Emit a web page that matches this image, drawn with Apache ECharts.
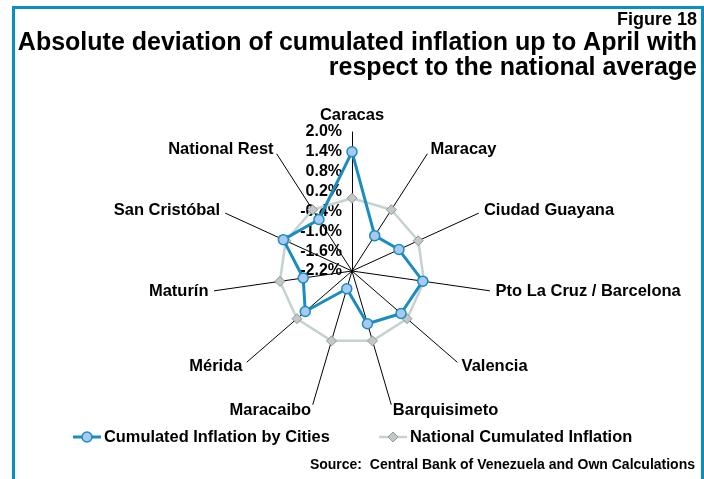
<!DOCTYPE html>
<html>
<head>
<meta charset="utf-8">
<script src="https://cdn.jsdelivr.net/npm/echarts@6/dist/echarts.min.js"></script>
<style>
  html, body { margin: 0; padding: 0; background: #fff; }
  #chart { width: 704px; height: 479px; }
</style>
</head>
<body>
<div id="chart"></div>
<script>
// Cities on the radar, clockwise from the top
const cities = [
  'Caracas', 'Maracay', 'Ciudad Guayana', 'Pto La Cruz / Barcelona', 'Valencia',
  'Barquisimeto', 'Maracaibo', 'Mérida', 'Maturín', 'San Cristóbal', 'National Rest'
];
// Deviation of cumulated inflation (percentage points) from the national average
const cityDeviation = [1.4, -0.93, -0.64, -0.04, -0.24, -0.54, -1.64, -0.33, -0.71, 0.08, -0.35];
// National reference: zero deviation on every axis
const nationalDeviation = [0, 0, 0, 0, 0, 0, 0, 0, 0, 0, 0];
// Radial scale: -2.2% .. 2.0% in steps of 0.6
const scaleMin = -2.2;
const scaleMax = 2.0;
const scaleSteps = 7;

const seriesNames = ['Cumulated Inflation by Cities', 'National Cumulated Inflation'];
const titleLines = ['Figure 18', 'Absolute deviation of cumulated inflation up to April with', 'respect to the national average'];
const sourceNote = 'Source:  Central Bank of Venezuela and Own Calculations';

const FONT = 'Liberation Sans, Arial, sans-serif';
const BLUE = '#1a8dc0';
const BLUE_FILL = '#a8c9f0';
const GREY_LINE = '#c4d2d2';
const GREY_FILL = '#c2c7c7';
const GREY_EDGE = '#8f9898';

// ECharts lays radar indicators out counter-clockwise; keep the first axis on top
// and walk the rest backwards so the cities read clockwise.
const order = [0].concat(cities.slice(1).map(function (_, i) { return cities.length - 1 - i; }));
const pick = function (arr) { return order.map(function (k) { return arr[k]; }); };

const indicators = order.map(function (k, i) {
  const ind = { name: cities[k], min: scaleMin, max: scaleMax };
  // value labels only along the vertical spoke
  if (i === 0) ind.axisLabel = { show: true };
  return ind;
});

const chart = echarts.init(document.getElementById('chart'), null, { renderer: 'canvas' });

function legendEntry(x, y, name, lineColor, lineWidth, marker) {
  return {
    type: 'group',
    children: [
      { type: 'line', shape: { x1: x, y1: y, x2: x + 28, y2: y },
        style: { stroke: lineColor, lineWidth: lineWidth } },
      marker,
      { type: 'text', x: x + 31, y: y,
        style: { text: name, align: 'left', verticalAlign: 'middle',
          font: 'bold 16.4px ' + FONT, fill: '#000' } }
    ]
  };
}

const LEG_Y = 437;

chart.setOption({
  animation: false,
  backgroundColor: '#ffffff',
  graphic: [
    {
      type: 'rect', z: 0,
      shape: { x: 13.5, y: 7.5, width: 689, height: 500 },
      style: { fill: 'none', stroke: '#0b8fc2', lineWidth: 3 }
    },
    {
      type: 'text', x: 697, y: 20,
      style: { text: titleLines[0], align: 'right', verticalAlign: 'middle',
        font: 'bold 18px ' + FONT, fill: '#000' }
    },
    {
      type: 'text', x: 697, y: 43,
      style: { text: titleLines[1], align: 'right', verticalAlign: 'middle',
        font: 'bold 25px ' + FONT, fill: '#000' }
    },
    {
      type: 'text', x: 697, y: 68,
      style: { text: titleLines[2], align: 'right', verticalAlign: 'middle',
        font: 'bold 25px ' + FONT, fill: '#000' }
    },
    {
      type: 'text', x: 695, y: 465,
      style: { text: sourceNote, align: 'right', verticalAlign: 'middle',
        font: 'bold 14px ' + FONT, fill: '#000' }
    },
    legendEntry(73, LEG_Y, seriesNames[0], BLUE, 3,
      { type: 'circle', shape: { cx: 87, cy: LEG_Y, r: 5 },
        style: { fill: BLUE_FILL, stroke: BLUE, lineWidth: 1.5 } }),
    legendEntry(379, LEG_Y, seriesNames[1], GREY_LINE, 2.5,
      { type: 'polygon', shape: { points: [[393, LEG_Y - 5], [398, LEG_Y], [393, LEG_Y + 5], [388, LEG_Y]] },
        style: { fill: GREY_FILL, stroke: GREY_EDGE, lineWidth: 1 } })
  ],
  radar: {
    center: [352, 271],
    radius: 139,
    startAngle: 90,
    shape: 'polygon',
    splitNumber: scaleSteps,
    indicator: indicators,
    nameGap: 6,
    axisName: { color: '#000', fontWeight: 'bold', fontSize: 16.5, fontFamily: FONT },
    axisLine: { show: true, lineStyle: { color: '#000', width: 1 } },
    axisTick: { show: false },
    splitLine: { show: false },
    splitArea: { show: false },
    axisLabel: {
      show: false,
      margin: 10,
      showMinLabel: true,
      showMaxLabel: true,
      color: '#000',
      fontWeight: 'bold',
      fontSize: 16,
      fontFamily: FONT,
      formatter: function (v) { return v.toFixed(1) + '%'; }
    }
  },
  series: [
    {
      name: seriesNames[1],
      type: 'radar',
      z: 2,
      symbol: 'diamond',
      symbolSize: 10,
      lineStyle: { color: GREY_LINE, width: 2.5 },
      itemStyle: { color: GREY_FILL, borderColor: GREY_EDGE, borderWidth: 1 },
      data: [{ name: seriesNames[1], value: pick(nationalDeviation) }]
    },
    {
      name: seriesNames[0],
      type: 'radar',
      z: 3,
      symbol: 'circle',
      symbolSize: 10,
      lineStyle: { color: BLUE, width: 3 },
      itemStyle: { color: BLUE_FILL, borderColor: BLUE, borderWidth: 1.5 },
      data: [{ name: seriesNames[0], value: pick(cityDeviation) }]
    }
  ]
});
</script>
</body>
</html>
